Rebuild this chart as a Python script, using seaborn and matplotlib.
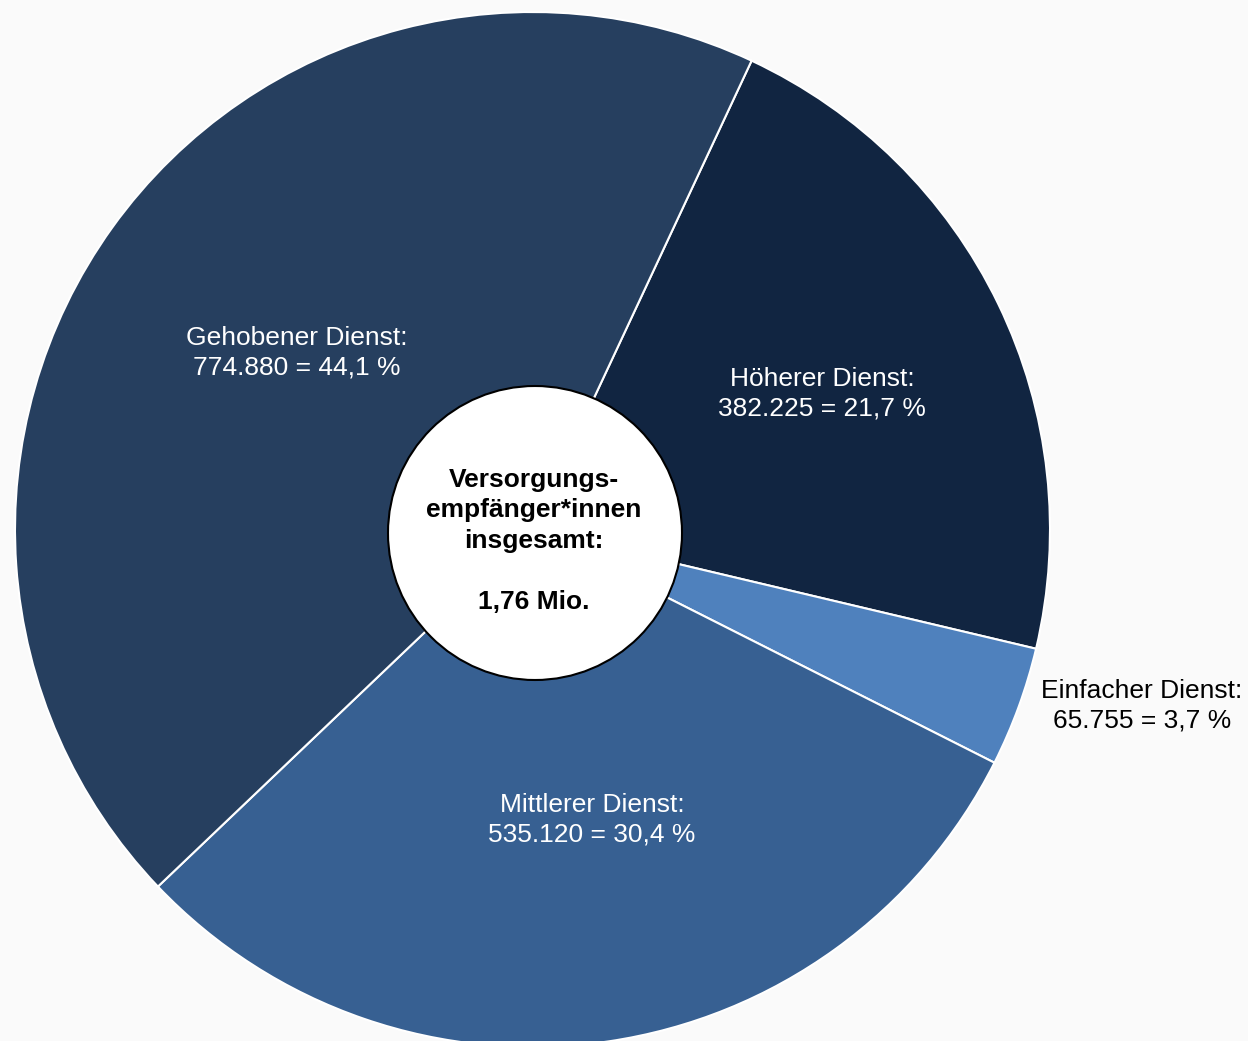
import matplotlib
matplotlib.use("Agg")
import matplotlib.pyplot as plt
import seaborn as sns

# data (clockwise order starting after the 12 o'clock offset)
categories = ["Höherer Dienst", "Einfacher Dienst", "Mittlerer Dienst", "Gehobener Dienst"]
values = [382225, 65755, 535120, 774880]
value_labels = ["382.225", "65.755", "535.120", "774.880"]
pct_labels = ["21,7", "3,7", "30,4", "44,1"]
total_label = "1,76 Mio."

sns.set_theme(style="white")
plt.rcParams["font.family"] = ["Liberation Sans", "DejaVu Sans"]

colors = ["#112541", "#4f81bd", "#376092", "#263f5f"]
bg = "#fafafa"

fig = plt.figure(figsize=(12.48, 10.41), dpi=100, facecolor=bg)
ax = fig.add_axes([0, 0, 1, 1])
ax.set_facecolor(bg)

cx, cy, r = 532.5, 1041 - 529.5, 517.5
wedges, _ = ax.pie(values, colors=colors, startangle=64.95, counterclock=False,
                   radius=r, center=(cx, cy), frame=True,
                   wedgeprops=dict(edgecolor="white", linewidth=1.5))
ax.set_xlim(0, 1248)
ax.set_ylim(0, 1041)
ax.set_aspect("equal")
ax.axis("off")

# label positions in pixel coords (x, y from top)
label_pos = [(822, 394), (1142, 706), (592, 820), (297, 353)]
text_colors = ["white", "black", "white", "white"]
for cat, v, p, (lx, ly), tc in zip(categories, value_labels, pct_labels, label_pos, text_colors):
    ax.text(lx, 1041 - ly, f"{cat}:\n{v} = {p} %", ha="center", va="center",
            fontsize=19, color=tc, linespacing=1.3)

centre = plt.Circle((535, 1041 - 533), 147, facecolor="white", edgecolor="black",
                    linewidth=1.5, zorder=5)
ax.add_patch(centre)
ax.text(534, 1041 - 541, f"Versorgungs-\nempfänger*innen\ninsgesamt:\n\n{total_label}",
        ha="center", va="center", fontsize=19, fontweight="bold", color="black",
        linespacing=1.35, zorder=6)

fig.savefig("out.png", dpi=100, facecolor=bg)
